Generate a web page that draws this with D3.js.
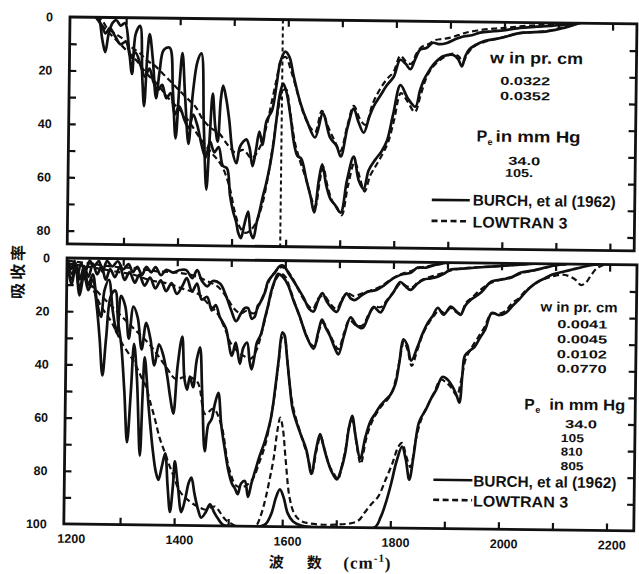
<!DOCTYPE html>
<html><head><meta charset="utf-8">
<script src="https://cdn.jsdelivr.net/npm/d3@7"></script>
<style>body{margin:0;background:#fff}svg{display:block}</style>
</head><body>
<svg id="chart" width="639" height="574"></svg>
<script>
// ---------------- DATA (wavenumber cm-1, absorptance %) ----------------
const xLabelTicks = [1200, 1400, 1600, 1800, 2000, 2200];
const xMinorTicks = [1300, 1400, 1500, 1600, 1700, 1800, 1900, 2000, 2100, 2200];
const topLabelTicks = [0, 20, 40, 60, 80];
const botLabelTicks = [0, 20, 40, 60, 80, 100];
const bandCentre = 1590;

// upper panel: w = 0.0322 pr.cm, Pe = 34.0 mmHg
const topBurchA = [[1244,0],[1250,1],[1256,8],[1262,13],[1268,6],[1275,2],[1282,1],[1290,3],[1298,2],[1306,12],[1312,21],[1318,6],[1326,3],[1331,22],[1335,33],[1340,14],[1344,6],[1350,15],[1357,30],[1363,20],[1370,12],[1381,11],[1388,27],[1394,45],[1400,25],[1405,13],[1411,30],[1418,47],[1425,28],[1433,16],[1440,13],[1446,40],[1452,64],[1457,45],[1462,28],[1467,40],[1472,46],[1477,30],[1481,25],[1487,30],[1493,38],[1500,50],[1507,54],[1513,48],[1519,46],[1525,45],[1531,48],[1537,55],[1543,49],[1549,42],[1555,47],[1562,38],[1572,34],[1580,24],[1586,16],[1595,12],[1603,14],[1611,21],[1624,31],[1637,38],[1652,44],[1666,35],[1680,44],[1692,47],[1700,51],[1712,40],[1723,33],[1732,38],[1742,42],[1752,36],[1760,32],[1772,28],[1784,24],[1796,21],[1808,14.5],[1818,16],[1827,18],[1836,14],[1845,10.5],[1856,10],[1868,8],[1880,8.5],[1894,8],[1910,6.5],[1924,5.5],[1940,5],[1955,4],[1980,3.4],[2005,2.8],[2029,2],[2060,1.5],[2091,1],[2115,0.5],[2130,0]];
const topLowtranA = [[1244,0],[1255,1],[1265,4],[1280,6],[1295,8],[1310,11],[1325,13],[1340,16],[1355,18],[1370,21],[1385,24],[1400,27],[1415,30],[1430,33],[1445,38],[1460,41],[1475,43],[1490,47],[1505,50],[1520,49],[1535,52],[1550,48],[1562,40],[1572,30],[1580,22],[1588,15],[1596,14],[1606,19],[1618,27],[1630,35],[1642,40],[1652,42],[1664,34],[1676,40],[1688,45],[1699,49],[1712,39],[1723,32],[1735,37],[1745,39],[1758,31],[1770,26],[1783,22],[1796,19],[1808,13],[1818,15],[1828,16],[1838,12],[1848,9.5],[1860,8.5],[1872,7],[1886,6.5],[1900,6],[1915,5],[1930,4],[1950,3.2],[1980,2.4],[2010,1.9],[2040,1.2],[2070,0.8],[2100,0.3],[2115,0]];
// upper panel: w = 0.0352 pr.cm, Pe = 105 mmHg
const topBurchB = [[1244,0],[1255,3],[1262,6],[1270,4],[1280,7],[1290,10],[1300,9],[1310,15],[1318,13],[1328,18],[1336,22],[1344,19],[1352,24],[1360,27],[1368,25],[1376,30],[1384,28],[1392,36],[1400,33],[1410,38],[1418,41],[1426,36],[1434,40],[1442,47],[1450,52],[1458,46],[1466,50],[1474,48],[1482,55],[1490,56],[1496,66],[1502,72],[1508,76],[1512,80],[1517,82],[1523,77],[1530,72],[1535,80],[1540,82],[1546,76],[1551,72],[1556,67],[1562,62],[1569,55],[1575,47],[1580,38],[1586,28],[1592,24],[1598,27],[1606,36],[1614,47],[1620,51],[1627,52],[1637,60],[1645,66],[1652,72],[1660,60],[1666,54],[1674,62],[1682,67],[1690,69],[1701,72],[1712,60],[1724,51],[1734,60],[1743,63],[1752,56],[1764,52],[1775,49],[1785,45],[1796,35],[1809,24],[1823,29],[1837,32],[1845,26],[1852,22],[1860,19],[1870,16],[1880,14],[1887,13],[1906,12.5],[1915,14],[1922,16.7],[1928,13],[1935,10.4],[1948,8.5],[1962,7.2],[1993,5.9],[2030,3.9],[2079,3.2],[2110,1.8],[2134,0.3],[2140,0]];
const topLowtranB = [[1244,0],[1260,4],[1280,8],[1300,12],[1320,16],[1340,21],[1360,25],[1380,30],[1400,34],[1420,39],[1440,45],[1460,50],[1480,55],[1495,63],[1505,72],[1515,78],[1525,80],[1535,79],[1545,76],[1555,70],[1565,60],[1575,46],[1583,34],[1590,27],[1597,26],[1605,34],[1615,46],[1625,53],[1637,60],[1647,67],[1654,70],[1662,60],[1668,55],[1676,62],[1686,68],[1694,70],[1703,73],[1714,62],[1726,53],[1736,59],[1745,64],[1755,58],[1766,54],[1777,50],[1788,45],[1798,37],[1810,27],[1822,30],[1836,34],[1846,28],[1855,22],[1865,18],[1878,15],[1892,13],[1906,12],[1916,13],[1924,15],[1932,12],[1945,9],[1962,7.5],[1990,6],[2030,4],[2080,3],[2110,1.5],[2135,0]];

// lower panel
const botBurch1 = [[1197,1],[1205,4],[1210,1],[1216,6],[1222,2],[1230,5],[1238,1],[1246,3],[1255,1],[1262,5],[1270,1],[1280,3],[1290,1],[1300,4],[1310,2],[1318,5],[1326,3],[1335,6],[1343,3],[1352,5],[1360,3],[1370,6],[1380,4],[1393,5],[1405,4],[1417,4],[1428,7],[1437,4],[1446,8],[1456,10],[1466,8],[1480,9],[1490,13],[1501,19],[1510,23],[1519,20],[1526,18],[1532,18],[1539,22],[1545,21],[1550,17],[1554,16],[1563,12],[1568,8],[1575,6],[1581,4.5],[1590,2],[1597,2],[1607,5],[1623,10],[1635,14],[1645,18],[1653,19],[1661,15],[1669,12],[1677,15],[1684,17],[1696,19],[1705,15],[1714,12],[1722,14],[1729,14.5],[1740,13],[1751,11.5],[1770,10.5],[1782,9],[1794,7],[1806,5.5],[1819,4.5],[1832,4],[1845,2],[1860,2],[1875,1],[1890,0.3],[1905,0]];
const botLowtran1 = [[1197,1],[1240,2],[1280,3],[1320,3.5],[1360,4.5],[1400,5],[1430,6],[1455,8],[1475,10],[1492,14],[1505,18],[1518,20],[1530,19],[1542,20],[1552,17],[1562,12],[1572,7],[1582,4],[1592,2.5],[1600,3],[1612,6],[1625,11],[1640,16],[1652,18],[1662,14],[1672,13],[1684,16],[1696,18],[1706,14],[1716,12],[1728,13],[1742,12],[1756,11],[1770,10],[1786,8],[1800,6],[1815,4.5],[1830,3.5],[1850,2],[1870,1.2],[1890,0.5],[1905,0]];
const botBurch2 = [[1197,2],[1206,6],[1212,2],[1220,8],[1228,3],[1236,7],[1244,2],[1252,6],[1260,3],[1268,8],[1276,4],[1285,7],[1294,3],[1303,8],[1312,5],[1322,9],[1330,6],[1340,10],[1350,7],[1360,11],[1370,8],[1380,12],[1390,9],[1400,13],[1410,10],[1418,7],[1428,12],[1437,9],[1446,15],[1456,14],[1465,19],[1472,17],[1480,21.5],[1487,24],[1492,26],[1503,36],[1510,31],[1518,39],[1524,33],[1531,31],[1536,38],[1540,41],[1545,36],[1549,31],[1556,28],[1563,22],[1569,17],[1574,12],[1580,8],[1587,5],[1595,6],[1605,9],[1616,15],[1628,21],[1640,28],[1654,33],[1662,27],[1669,22],[1676,25],[1684,28],[1692,32],[1700,35],[1710,28],[1722,21],[1733,24],[1744,25],[1754,21],[1764,17],[1777,19],[1788,15],[1800,11.6],[1813,7.5],[1822,9],[1832,10.4],[1845,8],[1856,6.5],[1869,6],[1882,5.3],[1895,4],[1906,2.6],[1928,2.2],[1949,1.8],[1980,1.3],[2010,0.8],[2040,0.3],[2060,0]];
const botLowtran2 = [[1197,2],[1230,3],[1260,4],[1290,5],[1320,6],[1350,8],[1380,9],[1410,11],[1440,13],[1460,17],[1475,20],[1490,26],[1500,31],[1512,34],[1525,36],[1538,37],[1548,34],[1558,27],[1567,19],[1575,12],[1583,7],[1592,5],[1600,6],[1610,11],[1622,18],[1635,25],[1648,31],[1656,32],[1664,26],[1671,23],[1680,26],[1690,30],[1700,33],[1710,27],[1720,22],[1732,24],[1744,24],[1755,20],[1766,17],[1778,17],[1790,14],[1802,11],[1814,8],[1824,9],[1834,9.5],[1846,7.5],[1860,6],[1875,5],[1890,4],[1905,3],[1930,2],[1960,1.5],[2000,1],[2040,0.3],[2060,0]];
const botBurch3 = [[1197,3],[1205,8],[1212,3],[1220,12],[1228,4],[1236,10],[1244,6],[1252,16],[1260,22],[1266,12],[1274,8],[1282,20],[1290,28],[1297,14],[1305,18],[1312,30],[1320,18],[1328,22],[1336,34],[1344,24],[1352,30],[1360,40],[1368,32],[1376,36],[1384,44],[1390,52],[1396,58],[1403,40],[1411,29],[1416,45],[1421,49],[1426,44],[1432,48],[1438,38],[1444,33],[1449,50],[1455,72],[1461,62],[1467,60],[1473,54],[1479,50],[1485,62],[1492,71],[1499,79],[1506,84],[1512,86],[1517,88],[1523,84],[1530,83],[1536,89],[1542,84],[1549,79],[1556,74],[1566,68],[1577,59],[1584,48],[1590,37],[1596,27],[1600,28],[1605,36],[1611,47],[1617,56],[1630,64],[1643,71],[1653,80],[1660,72],[1668,65],[1674,69],[1681,74],[1690,79],[1700,82],[1708,78],[1715,72],[1721,63],[1727,58],[1734,66],[1743,74],[1752,66],[1761,60],[1770,57],[1779,54],[1788,52],[1797,50],[1806,46],[1813,38],[1820,29],[1827,31],[1835,37],[1846,32],[1855,27],[1864,23],[1874,20],[1883,17],[1894,19.6],[1907,16.5],[1916,18],[1925,19.6],[1934,16],[1944,13.8],[1962,11.2],[1981,7],[1999,6.2],[2017,5.4],[2036,3.4],[2060,2.5],[2080,1.5],[2100,0.5],[2120,0]];
const botLowtran3 = [[1197,3],[1230,8],[1260,14],[1290,20],[1320,26],[1350,32],[1380,40],[1400,45],[1420,44],[1440,46],[1455,58],[1470,56],[1485,62],[1500,78],[1515,85],[1530,85],[1545,82],[1556,76],[1566,70],[1576,60],[1584,49],[1590,38],[1596,29],[1601,30],[1607,40],[1613,50],[1620,57],[1632,65],[1645,73],[1654,79],[1662,71],[1669,66],[1677,71],[1686,77],[1695,80],[1702,82],[1710,76],[1716,70],[1722,62],[1728,60],[1736,69],[1744,76],[1753,67],[1762,61],[1772,57],[1782,54],[1791,52],[1800,49],[1808,43],[1815,35],[1821,30],[1828,33],[1836,39],[1846,33],[1856,27],[1866,23],[1876,20],[1886,18],[1896,19],[1907,17],[1917,18.5],[1926,19],[1935,15],[1946,13],[1962,10],[1980,7.5],[2000,6],[2020,5],[2040,3.5],[2060,2.5],[2085,1.2],[2105,0.3],[2120,0]];
const botBurch4 = [[1197,2],[1205,10],[1212,3],[1220,14],[1228,6],[1236,12],[1244,8],[1252,18],[1258,30],[1264,44],[1270,30],[1278,14],[1286,12],[1292,24],[1298,32],[1305,50],[1311,69],[1317,50],[1322,32],[1328,45],[1335,74],[1339,50],[1342,37],[1350,55],[1359,72],[1365,80],[1370,83],[1376,78],[1382,73],[1387,85],[1392,95],[1397,85],[1400,76],[1406,85],[1413,95],[1420,90],[1426,84],[1431,82],[1437,88],[1444,94],[1450,97],[1458,95],[1466,92],[1474,95],[1480,97],[1490,99.5],[1500,100],[1560,100],[1570,99],[1580,95],[1588,89],[1595,86],[1602,89],[1610,95],[1620,98],[1635,99.5],[1650,100],[1770,100],[1782,96],[1792,90],[1801,83],[1810,75],[1820,69.4],[1827,74],[1834,81.8],[1842,72],[1851,60],[1864,55],[1873,51],[1882,47.8],[1893,43],[1903,44],[1912,46.6],[1920,50],[1925,52.6],[1930,42],[1934,35],[1943,33],[1952,31.5],[1962,28],[1971,25],[1983,18.7],[1996,19.5],[2009,18.6],[2021,16],[2033,13.6],[2048,10],[2064,7.2],[2080,5.5],[2094,4],[2112,3],[2131,2],[2150,1],[2165,0.3],[2180,0]];
const botLowtran4 = [[1197,2],[1220,6],[1240,10],[1260,18],[1280,24],[1300,32],[1320,38],[1335,44],[1345,48],[1352,53],[1362,60],[1371,67],[1380,72],[1389,77],[1399,82],[1409,87],[1420,89.5],[1432,91.5],[1445,93],[1458,94],[1468,93],[1476,92.8],[1485,95],[1495,97.7],[1505,99],[1515,100],[1550,100],[1560,96],[1568,90],[1576,82],[1583,74],[1589,64],[1594,59],[1599,63],[1605,75],[1613,89],[1622,95],[1632,97.4],[1645,98.5],[1700,99],[1740,97.5],[1752,94.4],[1765,91],[1777,88.3],[1790,82],[1802,76],[1813,69.5],[1820,68],[1828,73],[1836,77],[1845,67],[1855,59],[1866,54],[1878,49],[1890,44],[1900,45],[1910,47],[1920,50],[1928,44],[1936,36],[1946,32],[1958,28],[1970,24],[1982,19],[1995,19],[2008,18],[2020,15],[2033,13],[2046,10],[2060,8],[2075,6],[2090,5],[2110,4],[2125,4.5],[2138,6],[2147,7.8],[2156,7],[2166,4],[2176,1.5],[2190,0]];

const topSeries = [
  {d: topBurchA, dash: false}, {d: topLowtranA, dash: true},
  {d: topBurchB, dash: false}, {d: topLowtranB, dash: true}
];
const botSeries = [
  {d: botBurch1, dash: false}, {d: botLowtran1, dash: true},
  {d: botBurch2, dash: false}, {d: botLowtran2, dash: true},
  {d: botBurch3, dash: false}, {d: botLowtran3, dash: true},
  {d: botBurch4, dash: false}, {d: botLowtran4, dash: true}
];

// ---------------- DRAWING ----------------
const INK = '#111';
const SANS = '"Liberation Sans", Arial, sans-serif';
const svg = d3.select('#chart');
svg.append('rect').attr('width', 639).attr('height', 574).attr('fill', '#fff');
const root = svg.append('g').attr('transform', 'rotate(0.7,70,17)');

const x = d3.scaleLinear().domain([1196, 2245]).range([70, 637]);
const yTop = d3.scaleLinear().domain([0, 85]).range([17, 244]);
const yBot = d3.scaleLinear().domain([0, 100]).range([258, 524]);

function drawPanel(y, series, right, labelTicks, minorMax, id, showXLabels) {
  const [top, bottom] = [y.range()[0], y.range()[1]];
  const left = x.range()[0];
  root.append('clipPath').attr('id', id)
    .append('rect').attr('x', left).attr('y', top).attr('width', right - left).attr('height', bottom - top);

  const cg = root.append('g').attr('clip-path', `url(#${id})`);
  const line = d3.line().x(d => x(d[0])).y(d => y(d[1])).curve(d3.curveCatmullRom.alpha(0.5));
  series.forEach(s => {
    cg.append('path').attr('d', line(s.d)).attr('fill', 'none')
      .attr('stroke', INK).attr('stroke-width', s.dash ? 2.2 : 2.7)
      .attr('stroke-dasharray', s.dash ? '6,3.5' : null)
      .attr('stroke-linejoin', 'round');
  });

  const minorY = d3.range(10, minorMax + 1, 10);
  const clean = g => { g.select('.domain').remove(); g.selectAll('line').attr('stroke', INK).attr('stroke-width', 2.2); };
  root.append('g').attr('transform', `translate(${left},0)`)
    .call(d3.axisLeft(y).tickValues(minorY).tickSizeInner(-7).tickSizeOuter(0).tickFormat('')).call(clean);
  root.append('g').attr('transform', `translate(${right},0)`)
    .call(d3.axisRight(y).tickValues(minorY).tickSizeInner(-7).tickSizeOuter(0).tickFormat('')).call(clean);
  root.append('g').attr('transform', `translate(0,${top})`)
    .call(d3.axisTop(x).tickValues(xMinorTicks).tickSizeInner(-7).tickSizeOuter(0).tickFormat('')).call(clean);
  root.append('g').attr('transform', `translate(0,${bottom})`)
    .call(d3.axisBottom(x).tickValues(xMinorTicks).tickSizeInner(-7).tickSizeOuter(0).tickFormat('')).call(clean);

  const yl = root.append('g').attr('transform', `translate(${left},0)`)
    .call(d3.axisLeft(y).tickValues(labelTicks).tickSize(0).tickPadding(17));
  yl.select('.domain').remove();
  yl.selectAll('text').attr('font-family', SANS).attr('font-weight', 'bold').attr('font-size', 12.5).attr('fill', INK);

  if (showXLabels) {
    const xl = root.append('g').attr('transform', `translate(5,${bottom})`)
      .call(d3.axisBottom(x).tickValues(xLabelTicks).tickSize(0).tickPadding(10).tickFormat(d3.format('d')));
    xl.select('.domain').remove();
    xl.selectAll('text').attr('font-family', SANS).attr('font-weight', 'bold').attr('font-size', 12.5).attr('fill', INK);
  }

  root.append('rect').attr('x', left).attr('y', top).attr('width', right - left).attr('height', bottom - top)
    .attr('fill', 'none').attr('stroke', INK).attr('stroke-width', 2.8);
}

drawPanel(yTop, topSeries, 637, topLabelTicks, 80, 'clipTop', false);
drawPanel(yBot, botSeries, 640, botLabelTicks, 90, 'clipBot', true);

// band centre marker in upper panel
root.append('line').attr('x1', x(bandCentre)).attr('x2', x(bandCentre))
  .attr('y1', yTop(0)).attr('y2', yTop(85))
  .attr('stroke', INK).attr('stroke-width', 2).attr('stroke-dasharray', '4,3');

// ---------------- TEXT ----------------
function txt(s, xx, yy, size, opts = {}) {
  const t = root.append('text').attr('x', xx).attr('y', yy).attr('font-family', opts.family || SANS)
    .attr('font-size', size).attr('font-weight', opts.weight || 'bold').attr('fill', INK).text(s);
  if (opts.len) t.attr('textLength', opts.len).attr('lengthAdjust', 'spacingAndGlyphs');
  if (opts.anchor) t.attr('text-anchor', opts.anchor);
  return t;
}
function legendLine(x1, x2, yy, dash) {
  root.append('line').attr('x1', x1).attr('x2', x2).attr('y1', yy).attr('y2', yy)
    .attr('stroke', INK).attr('stroke-width', 2.6).attr('stroke-dasharray', dash ? '6,3.5' : null);
}

// upper legend
txt('w in pr. cm', 490.5, 58, 16, {len: 93});
txt('0.0322', 501, 79.5, 11.5, {len: 50});
txt('0.0352', 501, 94.5, 11.5, {len: 50});
txt('P', 478, 136.5, 16);
txt('e', 489, 140, 9);
txt('in mm Hg', 497, 136.5, 16, {len: 85});
txt('34.0', 510, 159.5, 11.5, {len: 32});
txt('105.', 507, 171.5, 11.5, {len: 28});
legendLine(434, 472, 195.4, false);
txt('BURCH, et al (1962)', 475, 200.5, 15.5, {len: 143});
legendLine(434, 472, 216.4, true);
txt('LOWTRAN 3', 475, 222.5, 15.5, {len: 95});

// lower legend
txt('w in pr. cm', 544, 305.8, 14, {len: 77});
txt('0.0041', 561, 322, 11.5, {len: 50});
txt('0.0045', 561, 337, 11.5, {len: 50});
txt('0.0102', 561, 352, 11.5, {len: 50});
txt('0.0770', 561, 366.5, 11.5, {len: 50});
txt('P', 529, 403.8, 15.5);
txt('e', 540, 407, 9);
txt('in mm Hg', 554, 403.8, 15.5, {len: 76});
txt('34.0', 570, 422, 11.5, {len: 32});
txt('105', 566, 436, 11.5, {len: 23});
txt('810', 566, 449.5, 11.5, {len: 22});
txt('805', 566, 464, 11.5, {len: 23});
legendLine(439, 478, 475.3, false);
txt('BURCH, et al (1962)', 479, 481.5, 15.5, {len: 143});
legendLine(439, 478, 495.3, true);
txt('LOWTRAN 3', 479, 501.5, 15.5, {len: 95});

// axis titles
const CJK = '"Noto Sans CJK SC", "Noto Sans CJK JP", sans-serif';
root.append('text').attr('transform', 'translate(27,271) rotate(-90)').attr('text-anchor', 'middle')
  .attr('font-family', CJK).attr('font-weight', 'bold').attr('font-size', 16).attr('letter-spacing', 3)
  .attr('fill', INK).text('吸收率');
txt('波', 283, 565, 15, {family: CJK, anchor: 'middle'});
txt('数', 321, 565, 15, {family: CJK, anchor: 'middle'});
const cm = root.append('text').attr('x', 350).attr('y', 565).attr('font-family', '"Liberation Serif", serif')
  .attr('font-size', 17).attr('font-weight', 'bold').attr('fill', INK).attr('letter-spacing', 1);
cm.append('tspan').text('(cm');
cm.append('tspan').attr('font-size', 11).attr('dy', -7).text('-1');
cm.append('tspan').attr('dy', 7).text(')');
</script>
</body></html>
